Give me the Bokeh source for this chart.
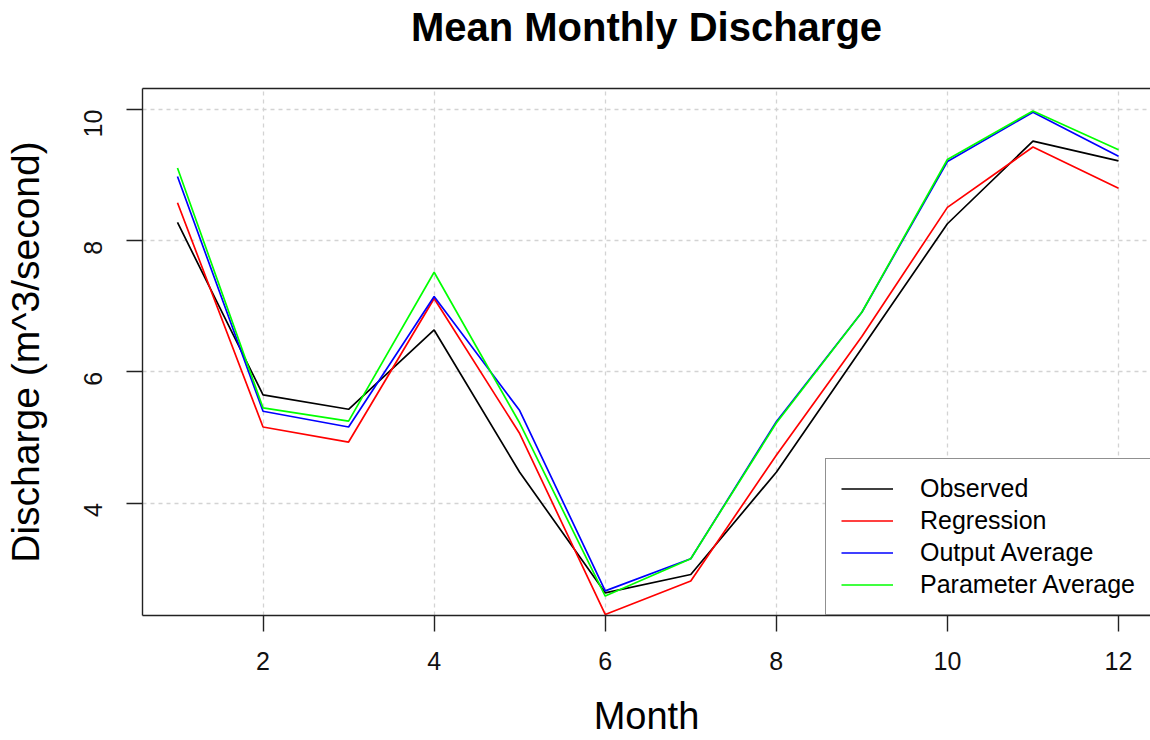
import math

from bokeh.embed import file_html
from bokeh.models import FixedTicker, Legend, LegendItem, LinearAxis, Range1d, Title
from bokeh.plotting import figure
from bokeh.resources import INLINE

# Mean monthly discharge (m^3/second) for each month of the year
months = [1, 2, 3, 4, 5, 6, 7, 8, 9, 10, 11, 12]
observed = [8.28, 5.65, 5.43, 6.64, 4.47, 2.63, 2.91, 4.47, 6.36, 8.26, 9.52, 9.22]
regression = [8.58, 5.16, 4.93, 7.12, 5.06, 2.30, 2.81, 4.73, 6.54, 8.51, 9.43, 8.80]
output_average = [8.98, 5.40, 5.16, 7.15, 5.41, 2.66, 3.15, 5.24, 6.91, 9.21, 9.96, 9.29]
parameter_average = [9.11, 5.45, 5.25, 7.52, 5.22, 2.58, 3.15, 5.22, 6.91, 9.24, 9.98, 9.39]

series_names = ["Observed", "Regression", "Output Average", "Parameter Average"]
series_values = [observed, regression, output_average, parameter_average]
series_colors = ["#000000", "#FF0000", "#0000FF", "#00FF00"]

x_ticks = [2, 4, 6, 8, 10, 12]
y_ticks = [4, 6, 8, 10]

FONT = "Liberation Sans"
FRAME = "#222222"

p = figure(
    width=1150,
    height=740,
    output_backend="svg",
    toolbar_location=None,
    x_range=Range1d(0.591, 12.374),
    y_range=Range1d(2.284, 10.323),
    min_border_left=142,
    min_border_right=0,
    min_border_top=88,
    min_border_bottom=125,
    background_fill_color="white",
    border_fill_color="white",
)
p.outline_line_color = None

xaxis = p.below[0]
yaxis = p.left[0]

# axes
xaxis.ticker = FixedTicker(ticks=x_ticks)
yaxis.ticker = FixedTicker(ticks=y_ticks)
for ax in (xaxis, yaxis):
    ax.axis_line_color = FRAME
    ax.axis_line_width = 1.4
    ax.major_tick_line_color = FRAME
    ax.major_tick_line_width = 1.4
    ax.major_tick_in = 0
    ax.major_tick_out = 16
    ax.minor_tick_line_color = None
    ax.major_label_text_font = FONT
    ax.major_label_text_font_size = "25px"
    ax.major_label_text_color = "#111111"
    ax.axis_label_text_font = FONT
    ax.axis_label_text_font_style = "normal"
    ax.axis_label_text_color = "black"

xaxis.axis_label = "Month"
xaxis.axis_label_text_font_size = "38px"
xaxis.major_label_standoff = 20
xaxis.axis_label_standoff = 22

yaxis.axis_label = "Discharge (m^3/second)"
yaxis.axis_label_text_font_size = "39px"
yaxis.major_label_orientation = math.pi / 2
yaxis.major_label_standoff = 33
yaxis.axis_label_standoff = 26

# unlabeled top axis: closes the box along the top and leaves a gap below the title
top_axis = LinearAxis(
    ticker=FixedTicker(ticks=[]),
    axis_line_color=FRAME,
    axis_line_width=1.4,
    major_tick_in=0,
    major_tick_out=0,
    major_tick_line_color=None,
    minor_tick_line_color=None,
    major_label_standoff=0,
    axis_label=" ",
    axis_label_text_font_size="1px",
    axis_label_standoff=34,
)
p.add_layout(top_axis, "above")

p.add_layout(
    Title(
        text="Mean Monthly Discharge",
        align="center",
        vertical_align="bottom",
        text_font=FONT,
        text_font_size="40px",
        text_font_style="bold",
        text_color="black",
        offset=0,
        standoff=4,
    ),
    "above",
)

# dotted light-grey grid at the ticks
for g in (p.xgrid[0], p.ygrid[0]):
    g.grid_line_color = "#D3D3D3"
    g.grid_line_dash = "4 4"
    g.grid_line_width = 1.3
p.xgrid.ticker = FixedTicker(ticks=x_ticks)
p.ygrid.ticker = FixedTicker(ticks=y_ticks)

items = []
for name, vals, color in zip(series_names, series_values, series_colors):
    r = p.line(months, vals, line_color=color, line_width=1.7)
    items.append(LegendItem(label=name, renderers=[r]))

legend = Legend(
    items=items,
    location=(683, 0),
    orientation="vertical",
    padding=15,
    spacing=3,
    margin=0,
    glyph_width=52,
    glyph_height=29,
    label_standoff=27,
    label_text_font=FONT,
    label_text_font_size="25px",
    label_text_color="black",
    border_line_color=FRAME,
    border_line_width=1.4,
    background_fill_color="white",
    background_fill_alpha=1.0,
)
p.add_layout(legend, "center")

open("out.html", "w").write(file_html(p, INLINE))
